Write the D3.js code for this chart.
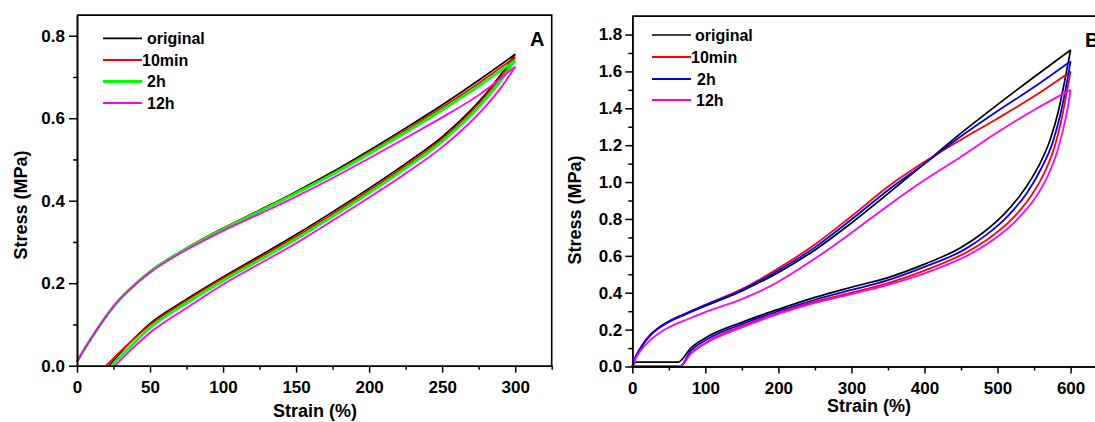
<!DOCTYPE html>
<html>
<head>
<meta charset="utf-8">
<script src="https://cdn.jsdelivr.net/npm/d3@7"></script>
<style>
  html, body { margin: 0; padding: 0; background: #fff; }
  svg { display: block; }
  text { font-family: "Liberation Sans", Arial, Helvetica, sans-serif; font-weight: bold; fill: #000; }
</style>
</head>
<body>
<svg id="chart" width="1095" height="422"></svg>
<script>
// ---------- Panel A: cyclic loading to 300 % strain ----------
const seriesNames = ["original", "10min", "2h", "12h"];
const aColors = ["#000000", "#ff0000", "#00ff00", "#ff00ff"];
const bColors = ["#000000", "#ff0000", "#0000ff", "#ff00ff"];

const aXTicks = [0, 50, 100, 150, 200, 250, 300];
const aYTicks = [0.0, 0.2, 0.4, 0.6, 0.8];

// loading branch (shared strain grid)
const aLoadStrain   = [0, 5, 10, 16, 27, 40, 50, 75, 100, 125, 150, 175, 200, 225, 250, 275, 300];
const aOriginalLoad = [0.010, 0.040, 0.068, 0.100, 0.152, 0.198, 0.228, 0.285, 0.333, 0.377, 0.422, 0.470, 0.522, 0.576, 0.632, 0.692, 0.755];
const a10minLoad    = [0.010, 0.040, 0.068, 0.100, 0.152, 0.198, 0.228, 0.285, 0.333, 0.376, 0.420, 0.467, 0.518, 0.571, 0.626, 0.685, 0.748];
const a2hLoad       = [0.010, 0.040, 0.068, 0.100, 0.152, 0.198, 0.228, 0.284, 0.331, 0.374, 0.418, 0.464, 0.514, 0.566, 0.620, 0.678, 0.740];
const a12hLoad      = [0.010, 0.040, 0.068, 0.100, 0.152, 0.197, 0.226, 0.281, 0.327, 0.368, 0.410, 0.455, 0.503, 0.552, 0.602, 0.656, 0.725];

// unloading branch
const aOriginalUnloadStrain = [300, 290, 280, 270, 260, 250, 225, 200, 175, 150, 125, 100, 75, 50, 36, 22];
const aOriginalUnload = [0.755, 0.705, 0.660, 0.621, 0.586, 0.555, 0.490, 0.430, 0.373, 0.318, 0.266, 0.215, 0.161, 0.102, 0.055, 0.0];
const a10minUnloadStrain = [300, 290, 280, 270, 260, 250, 225, 200, 175, 150, 125, 100, 75, 50, 35, 20];
const a10minUnload = [0.748, 0.699, 0.655, 0.616, 0.581, 0.550, 0.485, 0.425, 0.368, 0.313, 0.262, 0.212, 0.158, 0.099, 0.052, 0.0];
const a2hUnloadStrain = [300, 290, 280, 270, 260, 250, 225, 200, 175, 150, 125, 100, 75, 50, 37, 23.5];
const a2hUnload = [0.740, 0.691, 0.647, 0.609, 0.575, 0.544, 0.479, 0.419, 0.362, 0.307, 0.256, 0.206, 0.152, 0.092, 0.048, 0.0];
const a12hUnloadStrain = [300, 290, 280, 270, 260, 250, 225, 200, 175, 150, 125, 100, 75, 50, 38, 26];
const a12hUnload = [0.725, 0.673, 0.630, 0.593, 0.560, 0.530, 0.466, 0.408, 0.352, 0.297, 0.247, 0.197, 0.140, 0.080, 0.042, 0.0];

// ---------- Panel B: cyclic loading to 600 % strain ----------
const bXTicks = [0, 100, 200, 300, 400, 500, 600];
const bYTicks = [0.0, 0.2, 0.4, 0.6, 0.8, 1.0, 1.2, 1.4, 1.6, 1.8];

const bLoadStrain   = [0, 4, 10, 25, 38, 50, 75, 100, 150, 200, 250, 300, 350, 400, 450, 500, 550, 600];
const bOriginalLoad = [0, 0.045, 0.090, 0.170, 0.212, 0.241, 0.286, 0.328, 0.410, 0.510, 0.632, 0.778, 0.937, 1.100, 1.265, 1.420, 1.570, 1.716];
const b10minLoad    = [0, 0.047, 0.093, 0.174, 0.216, 0.245, 0.291, 0.335, 0.420, 0.532, 0.662, 0.815, 0.975, 1.110, 1.230, 1.345, 1.465, 1.600];
const b2hLoad       = [0, 0.047, 0.093, 0.173, 0.215, 0.244, 0.290, 0.333, 0.415, 0.521, 0.646, 0.797, 0.956, 1.100, 1.248, 1.385, 1.515, 1.655];
const b12hLoad      = [0, 0.038, 0.078, 0.145, 0.185, 0.212, 0.255, 0.295, 0.365, 0.460, 0.585, 0.725, 0.872, 1.011, 1.138, 1.270, 1.391, 1.500];

const bOriginalUnloadStrain = [600, 592, 583, 572, 556, 535, 510, 480, 450, 400, 350, 300, 250, 200, 150, 100, 80, 63, 5, 0];
const bOriginalUnload = [1.716, 1.550, 1.380, 1.230, 1.085, 0.950, 0.830, 0.725, 0.645, 0.555, 0.482, 0.430, 0.375, 0.310, 0.240, 0.155, 0.100, 0.024, 0.024, 0];
const b2hUnloadStrain = [600, 593, 585, 575, 560, 540, 515, 485, 455, 400, 350, 300, 250, 200, 150, 100, 80, 65, 0];
const b2hUnload = [1.655, 1.500, 1.350, 1.210, 1.075, 0.940, 0.820, 0.715, 0.635, 0.540, 0.468, 0.415, 0.362, 0.300, 0.230, 0.142, 0.085, 0, 0];
const b10minUnloadStrain = [600, 594, 587, 578, 564, 545, 520, 490, 460, 400, 350, 300, 250, 200, 150, 100, 80, 65, 0];
const b10minUnload = [1.600, 1.470, 1.330, 1.190, 1.050, 0.920, 0.800, 0.700, 0.625, 0.520, 0.452, 0.400, 0.352, 0.290, 0.218, 0.128, 0.070, 0, 0];
const b12hUnloadStrain = [600, 596, 590, 582, 569, 550, 525, 495, 465, 400, 350, 300, 250, 200, 150, 100, 80, 65, 0];
const b12hUnload = [1.500, 1.400, 1.290, 1.170, 1.035, 0.905, 0.790, 0.690, 0.615, 0.505, 0.443, 0.393, 0.345, 0.285, 0.212, 0.125, 0.068, 0, 0];

const svg = d3.select("#chart");
const zip = (xs, ys) => xs.map((x, i) => [x, ys[i]]);

function drawPanel(cfg) {
  const g = svg.append("g");
  const x = d3.scaleLinear().domain(cfg.xDomain).range(cfg.xRange);
  const y = d3.scaleLinear().domain(cfg.yDomain).range(cfg.yRange);

  // hysteresis loops: loading and unloading branches
  const line = d3.line().x(d => x(d[0])).y(d => y(d[1])).curve(d3.curveMonotoneX);
  cfg.curves.forEach((c, i) => {
    [c.load, c.unload].forEach(pts => {
      g.append("path")
        .attr("d", line(pts))
        .attr("fill", "none")
        .attr("stroke", cfg.colors[i])
        .attr("stroke-width", cfg.widths[i])
        .attr("stroke-linejoin", "round");
    });
  });

  // frame (top and right edges)
  g.append("path")
    .attr("d", `M${x.range()[0]},${y.range()[1]}H${x.range()[1]}V${y.range()[0]}`)
    .attr("fill", "none").attr("stroke", "#000").attr("stroke-width", 1.6);

  // minor ticks
  const xMinor = d3.axisBottom(x).tickValues(cfg.xMinor).tickSize(4).tickFormat("").tickSizeOuter(0);
  const yMinor = d3.axisLeft(y).tickValues(cfg.yMinor).tickSize(4).tickFormat("").tickSizeOuter(0);
  g.append("g").attr("transform", `translate(0,${y.range()[0]})`).call(xMinor);
  g.append("g").attr("transform", `translate(${x.range()[0]},0)`).call(yMinor);

  // major ticks with labels
  const xAxis = d3.axisBottom(x).tickValues(cfg.xTicks).tickSize(7).tickPadding(8).tickSizeOuter(0)
    .tickFormat(d3.format("d"));
  const yAxis = d3.axisLeft(y).tickValues(cfg.yTicks).tickSize(cfg.yTickSize).tickPadding(cfg.yPad).tickSizeOuter(0)
    .tickFormat(d3.format(".1f"));
  g.append("g").attr("transform", `translate(0,${y.range()[0]})`).call(xAxis);
  g.append("g").attr("transform", `translate(${x.range()[0]},0)`).call(yAxis);

  g.selectAll(".domain").attr("stroke", "#000").attr("stroke-width", 1.6);
  g.selectAll(".tick line").attr("stroke", "#000").attr("stroke-width", 1.5);
  g.selectAll(".tick text")
    .attr("fill", "#000")
    .style("font-family", '"Liberation Sans", Arial, sans-serif')
    .style("font-weight", "bold")
    .style("font-size", "17px");

  // axis titles
  g.append("text")
    .attr("x", cfg.xTitle[0]).attr("y", cfg.xTitle[1])
    .attr("text-anchor", "middle")
    .style("font-size", "18px")
    .text("Strain (%)");
  g.append("text")
    .attr("transform", `translate(${cfg.yTitle[0]},${cfg.yTitle[1]}) rotate(-90)`)
    .attr("text-anchor", "middle")
    .style("font-size", "18px")
    .text("Stress (MPa)");

  // legend
  seriesNames.forEach((name, i) => {
    const ly = cfg.legendY[i];
    g.append("line")
      .attr("x1", cfg.legendX[0]).attr("x2", cfg.legendX[1])
      .attr("y1", ly).attr("y2", ly)
      .attr("stroke", cfg.colors[i]).attr("stroke-width", cfg.widths[i]);
    g.append("text")
      .attr("x", cfg.legendTextX[i]).attr("y", ly + 5.8)
      .style("font-size", "16px")
      .text(name);
  });

  // panel letter
  g.append("text")
    .attr("x", cfg.letterPos[0]).attr("y", cfg.letterPos[1])
    .style("font-size", "20px")
    .text(cfg.letter);
}

drawPanel({
  xDomain: [0, 325], xRange: [77, 551.7],
  yDomain: [0, 0.85], yRange: [365.7, 15.1],
  xTicks: aXTicks, yTicks: aYTicks,
  xMinor: [25, 75, 125, 175, 225, 275, 325],
  yMinor: [0.1, 0.3, 0.5, 0.7],
  yTickSize: 8, yPad: 4,
  colors: aColors, widths: [1.7, 1.8, 2.8, 1.8],
  curves: [
    { load: zip(aLoadStrain, aOriginalLoad), unload: zip(aOriginalUnloadStrain, aOriginalUnload) },
    { load: zip(aLoadStrain, a10minLoad), unload: zip(a10minUnloadStrain, a10minUnload) },
    { load: zip(aLoadStrain, a2hLoad), unload: zip(a2hUnloadStrain, a2hUnload) },
    { load: zip(aLoadStrain, a12hLoad), unload: zip(a12hUnloadStrain, a12hUnload) }
  ],
  xTitle: [315, 417], yTitle: [27, 205],
  legendX: [103, 142], legendY: [38.3, 60, 81.5, 103],
  legendTextX: [147, 142, 147, 147],
  letter: "A", letterPos: [530, 46]
});

drawPanel({
  xDomain: [0, 660], xRange: [632.3, 632.3 + 660 * 0.7305],
  yDomain: [0, 1.9], yRange: [366.5, 16.1],
  xTicks: bXTicks, yTicks: bYTicks,
  xMinor: [50, 150, 250, 350, 450, 550, 650],
  yMinor: [0.1, 0.3, 0.5, 0.7, 0.9, 1.1, 1.3, 1.5, 1.7],
  yTickSize: 7, yPad: 3,
  colors: bColors, widths: [1.7, 1.8, 1.8, 1.8],
  curves: [
    { load: zip(bLoadStrain, bOriginalLoad), unload: zip(bOriginalUnloadStrain, bOriginalUnload) },
    { load: zip(bLoadStrain, b10minLoad), unload: zip(b10minUnloadStrain, b10minUnload) },
    { load: zip(bLoadStrain, b2hLoad), unload: zip(b2hUnloadStrain, b2hUnload) },
    { load: zip(bLoadStrain, b12hLoad), unload: zip(b12hUnloadStrain, b12hUnload) }
  ],
  xTitle: [869, 412], yTitle: [581, 210],
  legendX: [652, 691], legendY: [35, 57, 79, 100],
  legendTextX: [695, 691, 697, 696],
  letter: "B", letterPos: [1085, 47]
});
</script>
</body>
</html>
